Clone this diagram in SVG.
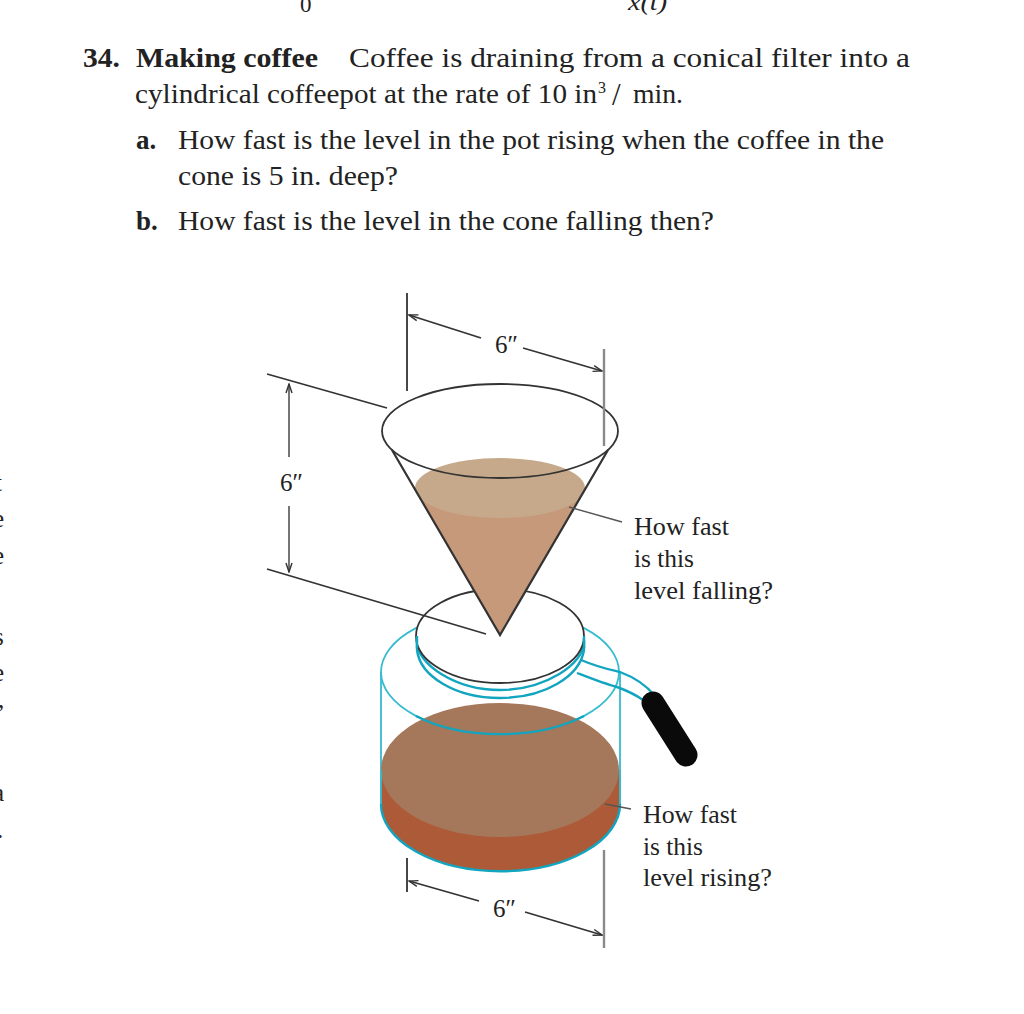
<svg xmlns="http://www.w3.org/2000/svg" width="1024" height="1014" viewBox="0 0 1024 1014">
<style>
text{font-family:"Liberation Serif","Times New Roman",serif;fill:#222}
.b{font-size:27px}
.bold{font-weight:bold}
.l{font-size:25px}
.k{fill:none;stroke:#333;stroke-width:1.8}
.g{fill:none;stroke:#666;stroke-width:1.8}
.d{fill:none;stroke:#8a8a8a;stroke-width:2.4}
.c{fill:none;stroke:#35bccf;stroke-width:1.8}
.c2{fill:none;stroke:#12a5bf;stroke-width:2.4}
</style>
<defs>
<marker id="a" markerWidth="11" markerHeight="8" refX="10" refY="4" orient="auto" markerUnits="userSpaceOnUse"><path d="M1 1L10 4L1 7" fill="none" stroke="#333" stroke-width="1.4"/></marker>
</defs>
<rect width="1024" height="1014" fill="#fff"/>
<g id="cropped-text">
<text x="300" y="12" font-size="23">0</text>
<text x="628" y="10" font-size="23" font-style="italic" textLength="39" lengthAdjust="spacingAndGlyphs">x(t)</text>
<text x="-5" y="491" font-size="25">t</text>
<text x="-7" y="527" font-size="25">e</text>
<text x="-7" y="564" font-size="25">e</text>
<text x="-6" y="645" font-size="25">s</text>
<text x="-7" y="681" font-size="25">e</text>
<text x="-2" y="708" font-size="25">,</text>
<text x="-7" y="801" font-size="25">a</text>
<text x="-3" y="838" font-size="25">.</text>
</g>
<g id="problem">
<text class="b bold" x="83" y="67" textLength="37" lengthAdjust="spacingAndGlyphs">34.</text>
<text class="b bold" x="136" y="67" textLength="182" lengthAdjust="spacingAndGlyphs">Making coffee</text>
<text class="b" x="349" y="67" textLength="561" lengthAdjust="spacingAndGlyphs">Coffee is draining from a conical filter into a</text>
<text class="b" x="135" y="103" textLength="462" lengthAdjust="spacingAndGlyphs">cylindrical coffeepot at the rate of 10 in</text>
<text x="598" y="93" font-size="16">3</text>
<text x="612" y="105" font-size="31">/</text>
<text class="b" x="633" y="103" textLength="50" lengthAdjust="spacingAndGlyphs">min.</text>
<text class="b bold" x="136" y="149">a.</text>
<text class="b" x="178" y="149" textLength="706" lengthAdjust="spacingAndGlyphs">How fast is the level in the pot rising when the coffee in the</text>
<text class="b" x="178" y="185" textLength="220" lengthAdjust="spacingAndGlyphs">cone is 5 in. deep?</text>
<text class="b bold" x="136" y="230">b.</text>
<text class="b" x="178" y="230" textLength="536" lengthAdjust="spacingAndGlyphs">How fast is the level in the cone falling then?</text>
</g>
<g id="pot">
<ellipse cx="500" cy="672" rx="119" ry="62" class="c"/>
<path d="M381 672V804M620 672V804" class="c"/>
<path d="M381 770V804A119 67 0 0 0 620 804V770Z" fill="#ad5a38"/>
<ellipse cx="500" cy="770" rx="119" ry="67" fill="#a5785b"/>
<path d="M381 804A119 67 0 0 0 620 804" class="c2"/>
<path d="M381 770V804M620 770V804" class="c"/>
<path d="M416 716A119 62 0 0 0 584 716" class="c2"/>
</g>
<g id="handle">
<path d="M581 660C600 668 612 670 620 672C636 678 647 686 655 696" class="c2"/>
<path d="M577 673C595 680 605 684 617 687C628 691 636 695 643 700" class="c2"/>
<path d="M653 703L686 755" fill="none" stroke="#0a0a0a" stroke-width="23" stroke-linecap="round"/>
</g>
<g id="lid">
<path d="M417 642C417 664 455 690 500 690C545 690 584 664 584 642" class="c2"/>
<path d="M417 640V650C420 676 455 698 500 698C545 698 580 676 584 650V640" class="c2"/>
<ellipse cx="500" cy="636" rx="84" ry="47" fill="#fff" stroke="#333" stroke-width="1.8"/>
<path d="M417 636V648M584 636V648" class="c2"/>
</g>
<g id="cone">
<ellipse cx="500" cy="431" rx="118" ry="47" fill="#fff"/>
<path d="M413.600 487L500 635L586.400 487Z" fill="#c6997a"/>
<ellipse cx="500" cy="488" rx="85" ry="30" fill="#c6a98a"/>
<ellipse cx="500" cy="431" rx="118" ry="47" class="k"/>
<path d="M392 450L500 635L608 450" fill="none" stroke="#333" stroke-width="2.2"/>
</g>
<g id="connectors">
<path d="M407 293V391" class="k"/>
<path d="M604 349V446" class="d"/>
<path d="M481 338L409 315" class="k" marker-end="url(#a)"/>
<path d="M523 348L602 371" class="k" marker-end="url(#a)"/>
<path d="M267 374L387 408" class="k"/>
<path d="M267 569L486 634" class="k"/>
<path d="M289 457V384" class="g" marker-end="url(#a)"/>
<path d="M289 506V572" class="g" marker-end="url(#a)"/>
<path d="M569 507L622 522" fill="none" stroke="#555" stroke-width="1.4"/>
<path d="M605 804L631 809" fill="none" stroke="#555" stroke-width="1.4"/>
<path d="M407 858V892" class="k"/>
<path d="M604 850V948" class="d"/>
<path d="M479 901L409 881" class="k" marker-end="url(#a)"/>
<path d="M525 912L602 935" class="k" marker-end="url(#a)"/>
</g>
<g id="labels">
<text class="l" x="495" y="353">6″</text>
<text class="l" x="280" y="491">6″</text>
<text class="l" x="493" y="917">6″</text>
<text class="l" x="634" y="535" textLength="95" lengthAdjust="spacingAndGlyphs">How fast</text>
<text class="l" x="634" y="567" textLength="60" lengthAdjust="spacingAndGlyphs">is this</text>
<text class="l" x="634" y="599" textLength="139" lengthAdjust="spacingAndGlyphs">level falling?</text>
<text class="l" x="643" y="823" textLength="94" lengthAdjust="spacingAndGlyphs">How fast</text>
<text class="l" x="643" y="855" textLength="60" lengthAdjust="spacingAndGlyphs">is this</text>
<text class="l" x="643" y="886" textLength="129" lengthAdjust="spacingAndGlyphs">level rising?</text>
</g>
</svg>
